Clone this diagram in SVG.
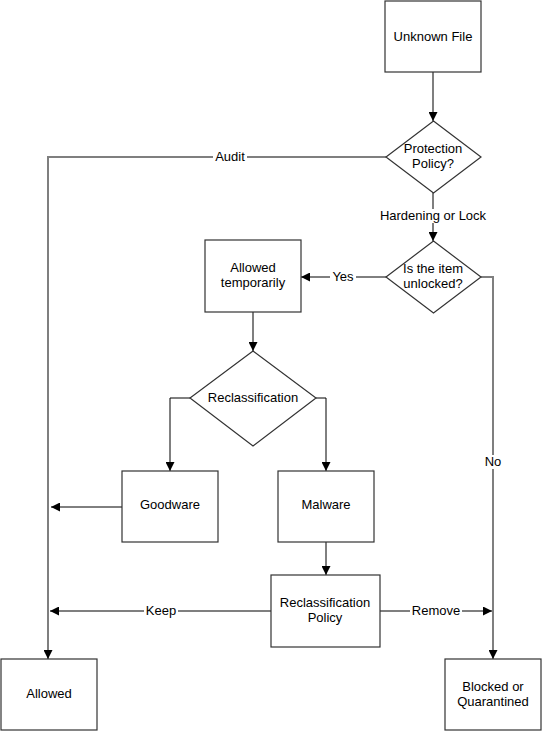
<svg xmlns="http://www.w3.org/2000/svg" width="542" height="732" viewBox="0 0 542 732">
<style>
.n{fill:#fff;stroke:#333;stroke-width:1.2}
.t{font-family:"Liberation Sans",Arial,sans-serif;font-size:13px;fill:#000;text-anchor:middle}
.g{fill:none;stroke:#7f7f7f;stroke-width:2}
.b{fill:none;stroke:#000;stroke-width:1}
.lb{fill:#fff}
</style>
<defs>
<marker id="a" viewBox="0 0 10 10" refX="10" refY="5" markerWidth="9" markerHeight="9" markerUnits="userSpaceOnUse" orient="auto"><path d="M0,0 L10,5 L0,10 Z" fill="#000"/></marker>
</defs>
<rect width="542" height="732" fill="#fff"/>
<g id="connectors">
<path class="g" d="M433,72 V121" marker-end="url(#a)"/>
<path class="g" d="M386,157 H48 V659" marker-end="url(#a)"/>
<path class="g" d="M433,192 V241" marker-end="url(#a)"/>
<path class="b" d="M386,277 H301" marker-end="url(#a)"/>
<path class="g" d="M481,277 H493 V659" marker-end="url(#a)"/>
<path class="g" d="M253,312 V351" marker-end="url(#a)"/>
<path class="b" d="M190,398 H170 V471" marker-end="url(#a)"/>
<path class="b" d="M316,398 H326 V471" marker-end="url(#a)"/>
<path class="b" d="M122,507 H51" marker-end="url(#a)"/>
<path class="b" d="M326,542 V575" marker-end="url(#a)"/>
<path class="g" d="M271,611 H50" marker-end="url(#a)"/>
<path class="g" d="M380,611 H492" marker-end="url(#a)"/>
<rect class="lb" x="213" y="150" width="34" height="14"/>
<text class="t" x="230" y="161">Audit</text>
<rect class="lb" x="377" y="209" width="112" height="14"/>
<text class="t" x="433" y="220">Hardening or Lock</text>
<rect class="lb" x="330" y="270" width="26" height="14"/>
<text class="t" x="343" y="281">Yes</text>
<rect class="lb" x="482" y="455" width="22" height="14"/>
<text class="t" x="493" y="466">No</text>
<rect class="lb" x="144" y="604" width="34" height="14"/>
<text class="t" x="161" y="615">Keep</text>
<rect class="lb" x="410" y="604" width="52" height="14"/>
<text class="t" x="436" y="615">Remove</text>
</g>
<g id="unknown-file"><rect class="n" x="385" y="1" width="96" height="71"/><text class="t" x="433" y="41">Unknown File</text></g>
<g id="protection-policy"><path class="n" d="M433.5,121 L481,157 L433.5,193 L386,157 Z"/><text class="t" x="433" y="153">Protection</text><text class="t" x="433" y="168">Policy?</text></g>
<g id="is-unlocked"><path class="n" d="M433.5,241 L481,277 L433.5,313 L386,277 Z"/><text class="t" x="433" y="273">Is the item</text><text class="t" x="433" y="288">unlocked?</text></g>
<g id="allowed-temporarily"><rect class="n" x="205" y="240" width="96" height="72"/><text class="t" x="253" y="272">Allowed</text><text class="t" x="253" y="287">temporarily</text></g>
<g id="reclassification"><path class="n" d="M253,351 L316,398 L253,446 L190,398 Z"/><text class="t" x="253" y="402">Reclassification</text></g>
<g id="goodware"><rect class="n" x="122" y="471" width="96" height="71"/><text class="t" x="170" y="509">Goodware</text></g>
<g id="malware"><rect class="n" x="278" y="471" width="96" height="71"/><text class="t" x="326" y="509">Malware</text></g>
<g id="reclassification-policy"><rect class="n" x="271" y="575" width="109" height="72"/><text class="t" x="325" y="607">Reclassification</text><text class="t" x="325" y="622">Policy</text></g>
<g id="allowed"><rect class="n" x="1" y="659" width="96" height="71"/><text class="t" x="49" y="698">Allowed</text></g>
<g id="blocked"><rect class="n" x="445" y="659" width="96" height="71"/><text class="t" x="493" y="691">Blocked or</text><text class="t" x="493" y="706">Quarantined</text></g>
</svg>
